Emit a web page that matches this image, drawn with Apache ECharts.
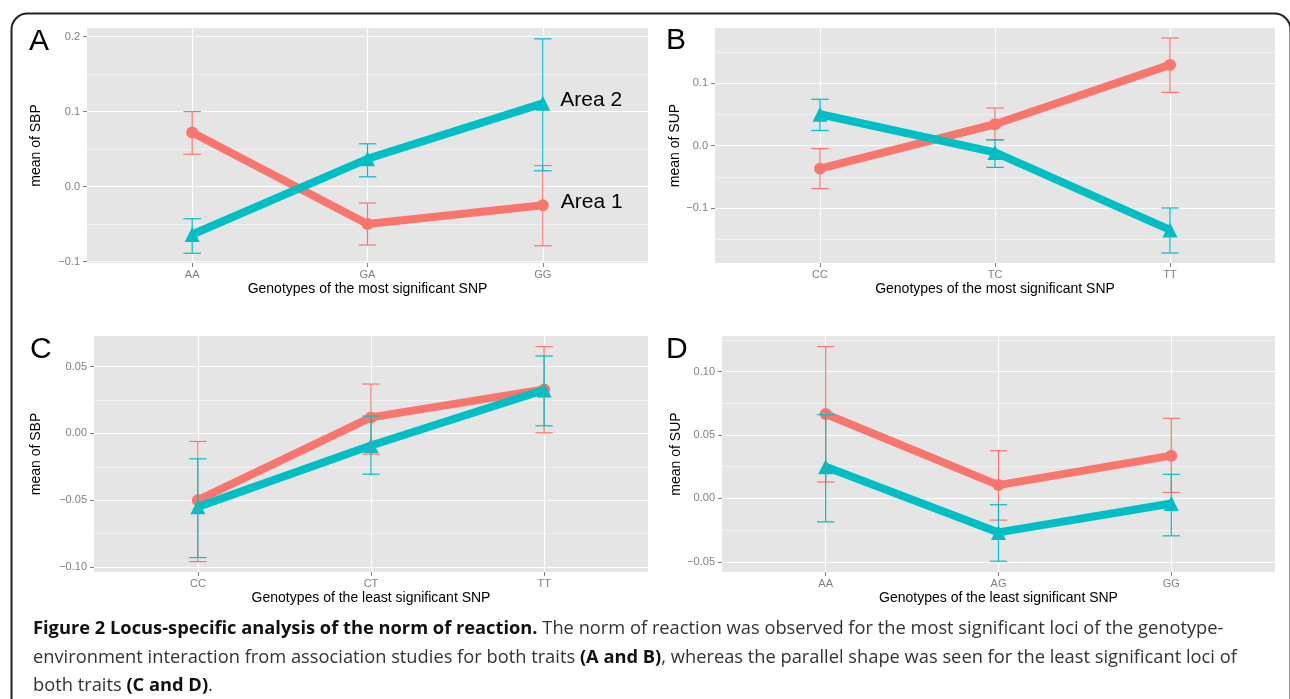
<!DOCTYPE html>
<html>
<head>
<meta charset="utf-8">
<script src="https://cdn.jsdelivr.net/npm/echarts@6/dist/echarts.min.js"></script>
<style>
  html, body { margin: 0; padding: 0; background: #fff; }
  #main { width: 1290px; height: 699px; }
</style>
</head>
<body>
<div id="main"></div>
<script>
// ---- data ----
// panel A: SBP, most significant SNP
var catsA = ['AA', 'GA', 'GG'];
var redA = [0.072, -0.050, -0.025];
var redA_lo = [0.043, -0.078, -0.079];
var redA_hi = [0.100, -0.022, 0.028];
var tealA = [-0.064, 0.037, 0.111];
var tealA_lo = [-0.089, 0.013, 0.021];
var tealA_hi = [-0.043, 0.057, 0.197];
var ticksA = [-0.1, 0, 0.1, 0.2];
var minorA = [-0.05, 0.05, 0.15];

// panel B: SUP, most significant SNP
var catsB = ['CC', 'TC', 'TT'];
var redB = [-0.037, 0.034, 0.129];
var redB_lo = [-0.069, 0.009, 0.085];
var redB_hi = [-0.005, 0.060, 0.172];
var tealB = [0.050, -0.011, -0.135];
var tealB_lo = [0.024, -0.035, -0.172];
var tealB_hi = [0.074, 0.009, -0.100];
var ticksB = [-0.1, 0, 0.1];
var minorB = [-0.15, -0.05, 0.05, 0.15];

// panel C: SBP, least significant SNP
var catsC = ['CC', 'CT', 'TT'];
var redC = [-0.050, 0.012, 0.033];
var redC_lo = [-0.096, -0.0155, 0.0005];
var redC_hi = [-0.006, 0.037, 0.065];
var tealC = [-0.055, -0.009, 0.0325];
var tealC_lo = [-0.093, -0.0305, 0.0057];
var tealC_hi = [-0.019, 0.013, 0.058];
var ticksC = [-0.10, -0.05, 0, 0.05];
var minorC = [-0.075, -0.025, 0.025];

// panel D: SUP, least significant SNP
var catsD = ['AA', 'AG', 'GG'];
var redD = [0.0665, 0.0105, 0.0337];
var redD_lo = [0.0129, -0.0171, 0.0047];
var redD_hi = [0.1197, 0.0376, 0.0631];
var tealD = [0.025, -0.0268, -0.004];
var tealD_lo = [-0.0185, -0.0495, -0.0295];
var tealD_hi = [0.066, -0.005, 0.019];
var ticksD = [-0.05, 0, 0.05, 0.10];
var minorD = [-0.025, 0.025, 0.075, 0.125];

var seriesNames = ['Area 1', 'Area 2'];

// ---- layout ----
var RED = '#F8766D', TEAL = '#00BFC4';
var FONT = 'Liberation Sans, Arial, Helvetica, sans-serif';

var panels = [
  {letter: 'A', cats: catsA, red: [redA, redA_lo, redA_hi], teal: [tealA, tealA_lo, tealA_hi],
   ticks: ticksA, minor: minorA, dec: 1, min: -0.102, max: 0.2115,
   yName: 'mean of SBP', xName: 'Genotypes of the most significant SNP',
   grid: {left: 87, top: 28, width: 561, height: 235}, nameGap: 45, lx: 29, ly: 42, labels: true},
  {letter: 'B', cats: catsB, red: [redB, redB_lo, redB_hi], teal: [tealB, tealB_lo, tealB_hi],
   ticks: ticksB, minor: minorB, dec: 1, min: -0.188, max: 0.188,
   yName: 'mean of SUP', xName: 'Genotypes of the most significant SNP',
   grid: {left: 715, top: 28, width: 560, height: 235}, nameGap: 32, lx: 666, ly: 41},
  {letter: 'C', cats: catsC, red: [redC, redC_lo, redC_hi], teal: [tealC, tealC_lo, tealC_hi],
   ticks: ticksC, minor: minorC, dec: 2, min: -0.1038, max: 0.073,
   yName: 'mean of SBP', xName: 'Genotypes of the least significant SNP',
   grid: {left: 94, top: 336, width: 554, height: 236}, nameGap: 52, lx: 30, ly: 350},
  {letter: 'D', cats: catsD, red: [redD, redD_lo, redD_hi], teal: [tealD, tealD_lo, tealD_hi],
   ticks: ticksD, minor: minorD, dec: 2, min: -0.058, max: 0.128,
   yName: 'mean of SUP', xName: 'Genotypes of the least significant SNP',
   grid: {left: 722, top: 336, width: 553, height: 236}, nameGap: 39, lx: 666, ly: 350}
];

// error bar drawn with the axes' own coordinate mapping
function errRender(params, api) {
  var x = api.value(0), lo = api.value(1), hi = api.value(2);
  var pLo = api.coord([x, lo]), pHi = api.coord([x, hi]);
  var l = api.coord([x - 0.05, lo])[0], r = api.coord([x + 0.05, lo])[0];
  var st = {stroke: api.visual('color'), lineWidth: 1.2, fill: null};
  return {type: 'group', children: [
    {type: 'line', shape: {x1: pLo[0], y1: pLo[1], x2: pHi[0], y2: pHi[1]}, style: st},
    {type: 'line', shape: {x1: l, y1: pLo[1], x2: r, y2: pLo[1]}, style: st},
    {type: 'line', shape: {x1: l, y1: pHi[1], x2: r, y2: pHi[1]}, style: st}
  ]};
}

function fmt(v, dec) {
  return v.toFixed(dec).replace('-', '\u2212');
}

var option = {
  animation: false,
  textStyle: {fontFamily: FONT},
  grid: [], xAxis: [], yAxis: [], series: [],
  graphic: []
};

panels.forEach(function (p, i) {
  option.grid.push({left: p.grid.left, top: p.grid.top, width: p.grid.width, height: p.grid.height,
    show: true, backgroundColor: '#E5E5E5', borderWidth: 0});

  option.xAxis.push({
    type: 'value', gridIndex: i, min: 0.4, max: 3.6, position: 'bottom',
    axisLine: {show: false, onZero: false},
    axisTick: {show: true, length: 4, customValues: [1, 2, 3], lineStyle: {color: '#7f7f7f'}},
    axisLabel: {customValues: [1, 2, 3], color: '#7f7f7f', fontSize: 11, margin: 6,
      formatter: function (v) { return p.cats[Math.round(v) - 1]; }},
    splitLine: {show: true, lineStyle: {color: '#ffffff', width: 1.2}},
    name: p.xName, nameLocation: 'middle', nameGap: 19,
    nameTextStyle: {color: '#000', fontSize: 14}
  });

  // minor grid lines (lighter)
  option.yAxis.push({
    type: 'value', gridIndex: i, min: p.min, max: p.max, position: 'left',
    axisLine: {show: false, onZero: false},
    axisTick: {show: false, customValues: p.minor},
    axisLabel: {show: false, customValues: p.minor},
    splitLine: {show: true, lineStyle: {color: '#F2F2F2', width: 1}}
  });
  // major axis
  option.yAxis.push({
    type: 'value', gridIndex: i, min: p.min, max: p.max, position: 'left',
    axisLine: {show: false, onZero: false},
    axisTick: {show: true, length: 4, customValues: p.ticks, lineStyle: {color: '#7f7f7f'}},
    axisLabel: {customValues: p.ticks, color: '#7f7f7f', fontSize: 11, margin: 7,
      formatter: function (v) { return fmt(v, p.dec); }},
    splitLine: {show: true, lineStyle: {color: '#ffffff', width: 1.2}},
    name: p.yName, nameLocation: 'middle', nameGap: p.nameGap - 1, nameRotate: 90,
    nameTextStyle: {color: '#000', fontSize: 14}
  });

  var yIdx = i * 2 + 1;
  [['red', RED, 'circle', 12, 0], ['teal', TEAL, 'triangle', 15, 1]].forEach(function (s) {
    var arr = p[s[0]];
    var data = arr[0].map(function (v, k) {
      var item = {value: [k + 1, v]};
      if (p.labels && k === arr[0].length - 1) {
        item.label = {show: true, formatter: seriesNames[s[4]], position: 'right',
          distance: s[4] === 0 ? 12 : 10, offset: [0, -3], fontSize: 21, color: '#000'};
      }
      return item;
    });
    option.series.push({
      type: 'line', name: seriesNames[s[4]], xAxisIndex: i, yAxisIndex: yIdx,
      data: data, symbol: s[2], symbolSize: s[3], showSymbol: true,
      lineStyle: {width: 8, color: s[1]}, itemStyle: {color: s[1]},
      z: 2 + s[4]
    });
  });
  [['red', RED], ['teal', TEAL]].forEach(function (s) {
    var arr = p[s[0]];
    option.series.push({
      type: 'custom', xAxisIndex: i, yAxisIndex: yIdx, renderItem: errRender,
      itemStyle: {color: s[1]}, z: 5,
      data: arr[0].map(function (v, k) { return [k + 1, arr[1][k], arr[2][k]]; })
    });
  });

  option.graphic.push({type: 'text', left: p.lx, top: p.ly - 15,
    style: {text: p.letter, fontSize: 30, fill: '#000', fontFamily: FONT}});
});

// outer frame
option.graphic.push({type: 'rect', left: 9, top: 11, z: -1,
  shape: {width: 1279, height: 720, r: 16},
  style: {fill: null, stroke: '#222', lineWidth: 2}});

// caption
var capFont = 'Open Sans, Noto Sans, sans-serif';
var capSize = 18.3;
var capRich = {
  n: {fontSize: capSize, fontFamily: capFont, fill: '#333', color: '#333'},
  b: {fontSize: capSize, fontFamily: capFont, fontWeight: 'bold', fill: '#111', color: '#111'}
};
var captionLines = [
  '{b|Figure 2 Locus-specific analysis of the norm of reaction.}{n| The norm of reaction was observed for the most significant loci of the genotype-}',
  '{n|environment interaction from association studies for both traits }{b|(A and B)}{n|, whereas the parallel shape was seen for the least significant loci of}',
  '{n|both traits }{b|(C and D)}{n|.}'
];
var capY = [631, 660, 688];
captionLines.forEach(function (t, k) {
  option.graphic.push({type: 'text', left: 33, top: capY[k] - 11,
    style: {text: t, rich: capRich, fontSize: capSize, fontFamily: capFont}});
});

var myChart = echarts.init(document.getElementById('main'));
myChart.setOption(option);
</script>
</body>
</html>
